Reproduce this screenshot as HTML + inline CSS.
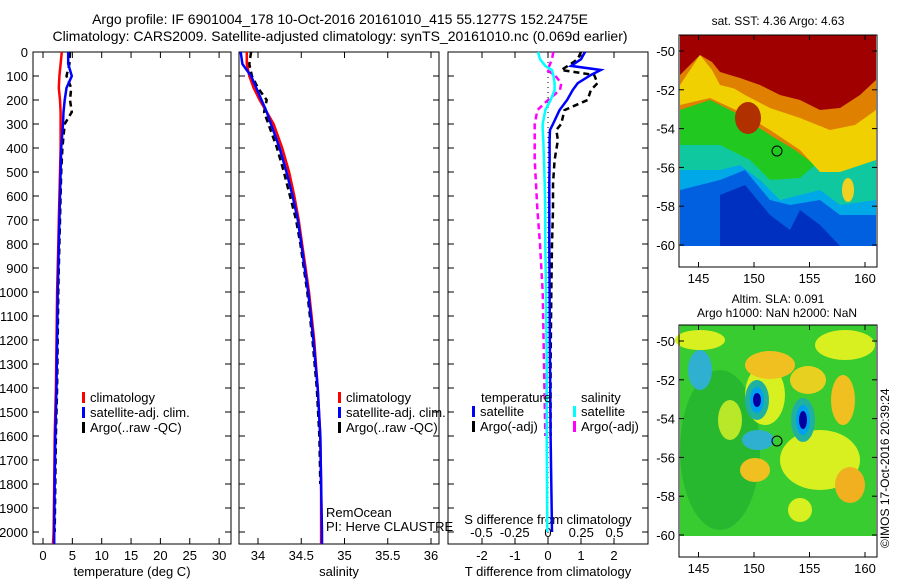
<!DOCTYPE html>
<html><head><meta charset="utf-8"><style>
body{margin:0;background:#fff;}
svg{display:block;font-family:"Liberation Sans",sans-serif;font-size:13px;}
</style></head><body>
<svg id="fig" width="900" height="580" viewBox="0 0 900 580" xmlns="http://www.w3.org/2000/svg">
<text x="340" y="24" text-anchor="middle" font-size="14">Argo profile: IF 6901004_178 10-Oct-2016 20161010_415 55.1277S 152.2475E</text>
<text x="340" y="41" text-anchor="middle" font-size="14">Climatology: CARS2009. Satellite-adjusted climatology: synTS_20161010.nc (0.069d earlier)</text>
<g id="p1"></g>
<g id="p2"></g>
<g id="p3"></g>
<g id="m1">
 <text x="778" y="25" text-anchor="middle" font-size="12">sat. SST: 4.36 Argo: 4.63</text>
 <rect x="680" y="35" width="196" height="211" fill="#e08000"/>
 <rect x="680" y="180" width="196" height="66" fill="#000090"/>
 <polygon fill="#0060e0" points="680,150 720,150 760,175 800,185 850,190 876,185 876,246 680,246"/>
 <polygon fill="#0030c0" points="720,195 745,185 770,215 790,230 800,210 820,225 840,246 720,246"/>
 <polygon fill="#00a8e8" points="680,150 720,150 760,170 800,180 830,175 876,170 876,215 840,215 820,200 790,205 770,200 745,170 720,180 680,190"/>
 <polygon fill="#10c8a0" points="680,140 720,135 760,150 800,160 830,165 876,160 876,200 840,205 820,190 780,200 760,180 740,165 720,170 680,170"/>
 <polygon fill="#20c820" points="680,110 710,100 740,115 770,135 795,150 815,165 800,178 770,180 750,160 720,145 680,145"/>
 <polygon fill="#f0d000" points="680,85 700,55 712,70 720,85 760,95 800,110 830,110 860,110 876,105 876,160 840,172 820,172 800,150 770,130 740,112 710,98 680,105"/>
 <polygon fill="#e08000" points="720,80 740,82 770,95 800,105 830,110 860,100 876,95 876,110 855,125 830,130 800,118 770,108 745,95"/>
 <polygon fill="#a00000" points="680,35 876,35 876,80 860,95 840,108 820,110 800,100 780,95 760,85 740,78 720,72 712,62 700,55 690,65 680,75"/>
 <ellipse cx="748" cy="118" rx="13" ry="16" fill="#b03000"/>
 <ellipse cx="848" cy="190" rx="6" ry="12" fill="#f0d020"/>
 <rect x="680" y="246" width="196" height="21" fill="#fff"/>
 <rect x="679" y="35" width="198" height="232" fill="none" stroke="#000"/>
 <circle cx="777" cy="151" r="5" fill="none" stroke="#000"/>
</g>
<g id="m2">
 <text x="778" y="303" text-anchor="middle" font-size="12">Altim. SLA: 0.091</text>
 <text x="777" y="317" text-anchor="middle" font-size="12">Argo h1000: NaN h2000: NaN</text>
 <rect x="680" y="325" width="196" height="211" fill="#38cc30"/>
 <ellipse cx="720" cy="450" rx="40" ry="80" fill="#28b830"/>
 <ellipse cx="700" cy="340" rx="25" ry="10" fill="#d8f020"/>
 <ellipse cx="765" cy="395" rx="20" ry="30" fill="#d8f020"/>
 <ellipse cx="770" cy="365" rx="25" ry="14" fill="#f0c020"/>
 <ellipse cx="808" cy="380" rx="18" ry="14" fill="#e8d020"/>
 <ellipse cx="845" cy="345" rx="30" ry="15" fill="#d8f020"/>
 <ellipse cx="843" cy="400" rx="12" ry="25" fill="#f0c020"/>
 <ellipse cx="820" cy="460" rx="40" ry="30" fill="#d8f020"/>
 <ellipse cx="850" cy="485" rx="15" ry="18" fill="#f0b020"/>
 <ellipse cx="755" cy="470" rx="15" ry="12" fill="#f0c020"/>
 <ellipse cx="800" cy="510" rx="12" ry="12" fill="#d8f020"/>
 <ellipse cx="730" cy="420" rx="12" ry="20" fill="#b8e828"/>
 <ellipse cx="757" cy="400" rx="12" ry="20" fill="#20b0a0"/>
 <ellipse cx="757" cy="400" rx="7" ry="13" fill="#00a0f0"/>
 <ellipse cx="757" cy="400" rx="4" ry="7" fill="#0000a0"/>
 <ellipse cx="803" cy="420" rx="12" ry="22" fill="#20b0a0"/>
 <ellipse cx="803" cy="420" rx="7" ry="15" fill="#00a0f0"/>
 <ellipse cx="803" cy="420" rx="4" ry="9" fill="#0000a0"/>
 <ellipse cx="758" cy="440" rx="16" ry="10" fill="#30b0d0"/>
 <ellipse cx="700" cy="370" rx="12" ry="20" fill="#30b0d0"/>
 <rect x="680" y="536" width="196" height="21" fill="#fff"/>
 <rect x="679" y="325" width="198" height="232" fill="none" stroke="#000"/>
 <circle cx="777" cy="441" r="5" fill="none" stroke="#000"/>
</g>
<text transform="translate(889,548) rotate(-90)" font-size="12">©IMOS 17-Oct-2016 20:39:24</text>
</svg>
<script>
// ----- data -----
const depth = [0,50,100,150,200,250,300,400,500,600,700,800,900,1000,1200,1400,1600,1800,2000,2050];
const tempClim = [3.2,3.0,2.8,2.7,2.9,3.0,3.0,3.0,2.9,2.8,2.7,2.6,2.5,2.4,2.3,2.2,2.0,1.9,1.8,1.7];
const tempSat  = [4.3,4.3,4.9,4.0,3.7,3.5,3.4,3.1,3.0,2.9,2.8,2.7,2.6,2.5,2.4,2.3,2.1,2.0,1.9,1.9];
const tempArgo = [4.6,4.5,4.0,4.8,4.6,4.9,3.7,3.3,3.1,3.0,2.9,2.8,2.7,2.6,2.5,2.4,2.2,2.1,2.0];
const salClim = [33.87,33.87,33.9,33.95,34.02,34.1,34.18,34.28,34.36,34.42,34.47,34.51,34.55,34.59,34.65,34.69,34.72,34.73,34.73,34.73];
const salSat  = [33.80,33.82,33.92,33.98,34.04,34.1,34.15,34.25,34.33,34.4,34.46,34.5,34.54,34.58,34.64,34.69,34.72,34.73,34.74,34.74];
const salArgo = [33.92,33.9,33.93,34.0,34.1,34.07,34.12,34.22,34.3,34.37,34.44,34.49,34.53,34.57,34.63,34.68,34.71,34.72];
const dDepth = [0,30,58,75,96,130,158,200,242,300,325,367,450,550,658,800,1000,1300,1600,2000];
const tDiffSat  = [1.12,1.0,0.7,1.6,1.3,0.9,0.75,0.58,0.35,0.15,0.06,0.05,0.05,0.04,0.04,0.04,0.05,0.06,0.08,0.12];
const tDiffArgo = [1.0,0.9,0.6,0.4,1.4,1.5,1.3,1.2,0.5,0.4,0.25,0.3,0.2,0.15,0.15,0.12,0.1,0.08,0.08];
const sDiffSat  = [-0.075,-0.06,-0.02,0.03,0.04,0.05,0.05,0.02,-0.02,-0.04,-0.04,-0.035,-0.03,-0.025,-0.02,-0.02,-0.015,-0.01,-0.01,-0.005];
const sDiffArgo = [0.04,0.03,0.01,-0.01,0.05,0.1,0.09,0.0,-0.08,-0.1,-0.1,-0.1,-0.1,-0.09,-0.08,-0.06,-0.04,-0.03,-0.02];
const depthTicks = [0,100,200,300,400,500,600,700,800,900,1000,1100,1200,1300,1400,1500,1600,1700,1800,1900,2000];
const tempTicks = [0,5,10,15,20,25,30];
const salTicks = [34,34.5,35,35.5,36];
const salTickLabels = ["34","34.5","35","35.5","36"];
const tDiffTicks = [-2,-1,0,1,2];
const sDiffTicks = [-0.5,-0.25,0,0.25,0.5];
const sDiffTickLabels = ["-0.5","-0.25","0","0.25","0.5"];
const mapLonTicks = [145,150,155,160];
const mapLatTicks = [-50,-52,-54,-56,-58,-60];

const NS="http://www.w3.org/2000/svg";
function mk(parent,tag,attrs,text){const e=document.createElementNS(NS,tag);for(const k in attrs)e.setAttribute(k,attrs[k]);if(text!==undefined)e.textContent=text;parent.appendChild(e);return e;}
const Y0=52, YB=544;
const yD = d => Y0 + d*0.24;

function panel(g,x0,x1,xs,ticks,labels,xlabel,name){
  const f=mk(g,'rect',{x:x0,y:Y0,width:x1-x0,height:YB-Y0,fill:'none',stroke:'#000'});
  
  
  depthTicks.forEach(d=>{
    mk(g,'line',{x1:x0,x2:x0+6,y1:yD(d),y2:yD(d),stroke:'#000'});
    mk(g,'line',{x1:x1,x2:x1-6,y1:yD(d),y2:yD(d),stroke:'#000'});
  });
  ticks.forEach((t,i)=>{
    const x=xs(t);
    mk(g,'line',{x1:x,x2:x,y1:YB,y2:YB-6,stroke:'#000'});
    mk(g,'line',{x1:x,x2:x,y1:Y0,y2:Y0+6,stroke:'#000'});
    const tl=mk(g,'text',{x:x,y:YB+16,'text-anchor':'middle'},labels[i]);
    
    
  });
  const xl=mk(g,'text',{x:(x0+x1)/2,y:YB+32,'text-anchor':'middle'},xlabel);
  
  
}
function line(g,xs,vals,deps,color,dash,name){
  const pts=vals.map((v,i)=>xs(v).toFixed(1)+','+yD(deps[i]).toFixed(1)).join(' ');
  const a={points:pts,fill:'none',stroke:color,'stroke-width':2.5};
  if(dash)a['stroke-dasharray']=dash;
  const p=mk(g,'polyline',a);
  
  
}
function legend(g,x,y,items,name){
  items.forEach((it,i)=>{
    mk(g,'rect',{x:x,y:y+i*15-10,width:3,height:11,fill:it[1]});
    const t=mk(g,'text',{x:x+8,y:y+i*15},it[0]);
    
    
  });
}

const p1=document.getElementById('p1');
depthTicks.forEach(d=>{
  const t=mk(p1,'text',{x:28,y:yD(d)+5,'text-anchor':'end'},String(d));
  
  
});
const xT=t=>43+5.87*t;
panel(p1,33,231,xT,tempTicks,tempTicks.map(String),'temperature (deg C)','temperature');
line(p1,xT,tempClim,depth,'#f00',null,'temp-climatology-line');
line(p1,xT,tempArgo,depth,'#000','6,4','temp-argo-line');
line(p1,xT,tempSat,depth,'#00f',null,'temp-satellite-line');
legend(p1,82,402,[['climatology','#f00'],['satellite-adj. clim.','#00f'],['Argo(..raw -QC)','#000']],'temp-legend');
const p2=document.getElementById('p2');
const xS=s=>258+86.5*(s-34);
panel(p2,239,439,xS,salTicks,salTickLabels,'salinity','salinity');
line(p2,xS,salClim,depth,'#f00',null,'sal-climatology-line');
line(p2,xS,salArgo,depth,'#000','6,4','sal-argo-line');
line(p2,xS,salSat,depth,'#00f',null,'sal-satellite-line');
legend(p2,338,402,[['climatology','#f00'],['satellite-adj. clim.','#00f'],['Argo(..raw -QC)','#000']],'sal-legend');
mk(p2,'text',{x:326,y:517},'RemOcean');
mk(p2,'text',{x:326,y:531},'PI: Herve CLAUSTRE');
const p3=document.getElementById('p3');
const xTD=t=>548+33*t, xSD=s=>548+133*s;
panel(p3,448,648,xTD,tDiffTicks,tDiffTicks.map(String),'T difference from climatology','diff');
mk(p3,'line',{x1:548,x2:548,y1:Y0,y2:YB,stroke:'#000','stroke-dasharray':'1,4'});
sDiffTicks.forEach((s,i)=>{
  const t=mk(p3,'text',{x:xSD(s),y:537,'text-anchor':'middle'},sDiffTickLabels[i]);
  
  
});
mk(p3,'text',{x:548,y:524,'text-anchor':'middle'},'S difference from climatology');
line(p3,xSD,sDiffArgo,dDepth,'#f0f','6,4','sdiff-argo-line');
line(p3,xSD,sDiffSat,dDepth,'#0ff',null,'sdiff-satellite-line');
line(p3,xTD,tDiffArgo,dDepth,'#000','6,4','tdiff-argo-line');
line(p3,xTD,tDiffSat,dDepth,'#00f',null,'tdiff-satellite-line');
mk(p3,'text',{x:481,y:402},'temperature');
mk(p3,'text',{x:581,y:402},'salinity');
legend(p3,472,416,[['satellite','#00f'],['Argo(-adj)','#000']],'tdiff-legend');
legend(p3,573,416,[['satellite','#0ff'],['Argo(-adj)','#f0f']],'sdiff-legend');
[['m1',35,267,51],['m2',325,557,341]].forEach(([id,top,bot,lat50])=>{
  const g=document.getElementById(id);
  const lx=l=>698.5+11.1*(l-145), ly=l=>lat50+19.4*(-50-l);
  mapLonTicks.forEach(l=>{
    mk(g,'line',{x1:lx(l),x2:lx(l),y1:top,y2:top+5,stroke:'#000'});
    mk(g,'line',{x1:lx(l),x2:lx(l),y1:bot,y2:bot-5,stroke:'#000'});
    const t=mk(g,'text',{x:lx(l),y:bot+16,'text-anchor':'middle'},String(l));
    
    
  });
  mapLatTicks.forEach(l=>{
    mk(g,'line',{x1:679,x2:684,y1:ly(l),y2:ly(l),stroke:'#000'});
    mk(g,'line',{x1:877,x2:872,y1:ly(l),y2:ly(l),stroke:'#000'});
    const t=mk(g,'text',{x:675,y:ly(l)+5,'text-anchor':'end'},String(l));
    
    
  });
});
</script>
</body></html>
